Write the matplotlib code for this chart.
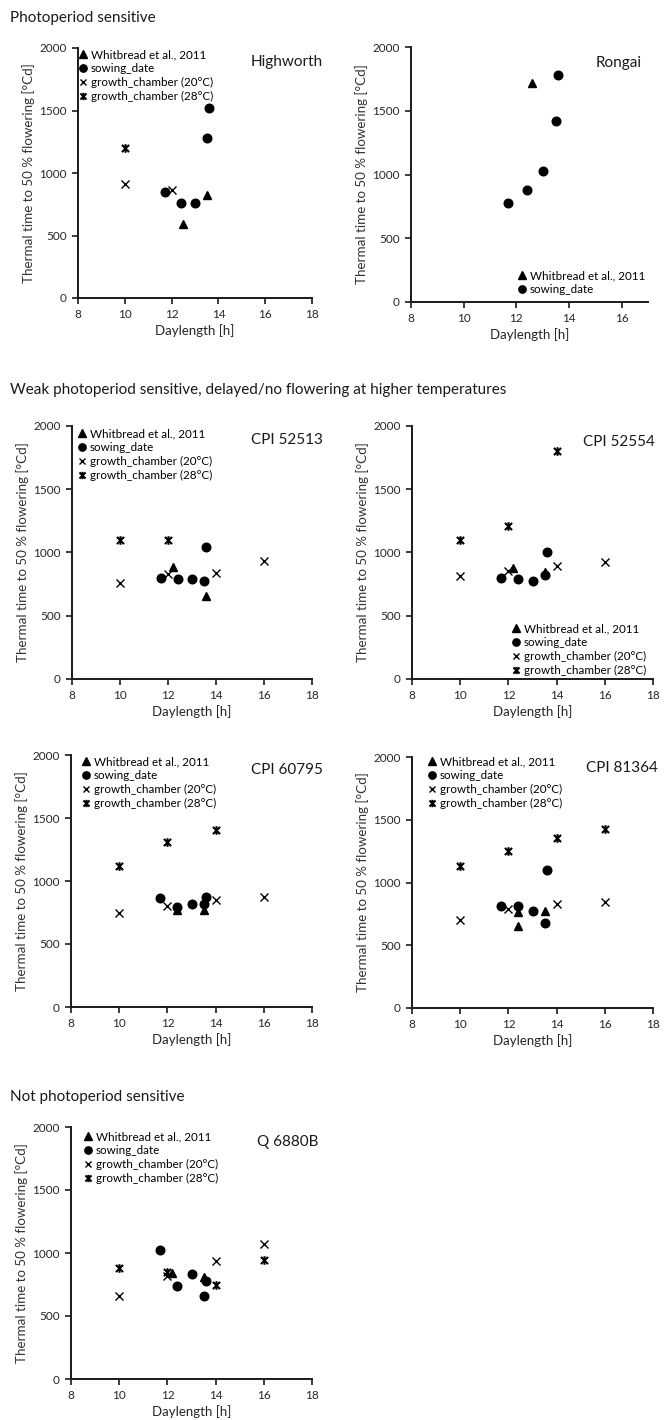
import matplotlib
matplotlib.use("Agg")
import matplotlib.pyplot as plt
from matplotlib.path import Path

plt.rcParams['font.family'] = ['Lato', 'DejaVu Sans']

# ---------------- data ----------------
labels = ["Whitbread et al., 2011", "sowing_date",
          "growth_chamber (20\u00b0C)", "growth_chamber (28\u00b0C)"]
panel_names = ["Highworth", "Rongai", "CPI 52513", "CPI 52554",
               "CPI 60795", "CPI 81364", "Q 6880B"]
group_titles = ["Photoperiod sensitive",
                "Weak photoperiod sensitive, delayed/no flowering at higher temperatures",
                "Not photoperiod sensitive"]
x_label = "Daylength [h]"
y_label = "Thermal time to 50 % flowering [\u00b0Cd]"
y_ticks = [0, 500, 1000, 1500, 2000]

# Highworth
hw_tri_x = [12.5, 13.5];            hw_tri_y = [590, 825]
hw_dot_x = [11.7, 12.4, 13.0, 13.5, 13.6]; hw_dot_y = [845, 757, 762, 1278, 1519]
hw_c20_x = [10, 12];                hw_c20_y = [915, 868]
hw_c28_x = [10];                    hw_c28_y = [1200]

# Rongai
ro_tri_x = [12.6];                  ro_tri_y = [1720]
ro_dot_x = [11.7, 12.4, 13.0, 13.5, 13.6]; ro_dot_y = [779, 876, 1025, 1420, 1778]

# CPI 52513
a_tri_x = [12.2, 13.6];             a_tri_y = [886, 656]
a_dot_x = [11.7, 12.4, 13.0, 13.5, 13.6]; a_dot_y = [802, 790, 794, 775, 1040]
a_c20_x = [10, 12, 14, 16];         a_c20_y = [762, 830, 841, 934]
a_c28_x = [10, 12];                 a_c28_y = [1100, 1100]

# CPI 52554
b_tri_x = [12.2, 13.5];             b_tri_y = [881, 847]
b_dot_x = [11.7, 12.4, 13.0, 13.5, 13.6]; b_dot_y = [802, 788, 775, 820, 1000]
b_c20_x = [10, 12, 14, 16];         b_c20_y = [815, 855, 894, 926]
b_c28_x = [10, 12, 14];             b_c28_y = [1100, 1206, 1799]

# CPI 60795
c_tri_x = [12.4, 13.5];             c_tri_y = [770, 770]
c_dot_x = [11.7, 12.4, 13.0, 13.5, 13.6]; c_dot_y = [862, 796, 815, 815, 870]
c_c20_x = [10, 12, 14, 16];         c_c20_y = [749, 804, 849, 876]
c_c28_x = [10, 12, 14];             c_c28_y = [1119, 1307, 1405]

# CPI 81364
d_tri_x = [12.4, 12.4, 13.5];       d_tri_y = [655, 765, 769]
d_dot_x = [11.7, 12.4, 13.0, 13.5, 13.6]; d_dot_y = [809, 809, 769, 676, 1101]
d_c20_x = [10, 12, 14, 16];         d_c20_y = [703, 788, 828, 843]
d_c28_x = [10, 12, 14, 16];         d_c28_y = [1135, 1252, 1358, 1427]

# Q 6880B
e_tri_x = [12.2, 13.5];             e_tri_y = [841, 810]
e_dot_x = [11.7, 12.4, 13.0, 13.5, 13.6]; e_dot_y = [1021, 741, 834, 662, 775]
e_c20_x = [10, 12, 14, 16];         e_c20_y = [662, 815, 939, 1074]
e_c28_x = [10, 12, 14, 16];         e_c28_y = [881, 847, 749, 947]

# ---------------- layout ----------------
W, H = 665, 1420
fig = plt.figure(figsize=(W / 100, H / 100), dpi=100)

def add_axes(x0, x1, y0, y1):
    return fig.add_axes([x0 / W, 1 - y1 / H, (x1 - x0) / W, (y1 - y0) / H])

star = Path([(-1, -1), (1, 1), (-1, 1), (1, -1), (0, -1.2), (0, 1.2)],
            [Path.MOVETO, Path.LINETO, Path.MOVETO, Path.LINETO, Path.MOVETO, Path.LINETO])

INK = '#1a1a1a'
TXT = '#262626'
LEG_FS = 8.4

def style(ax, xmax=18, xticks=range(8, 19, 2)):
    ax.set_xlim(8, xmax)
    ax.set_ylim(0, 2000)
    ax.set_xticks(list(xticks))
    ax.set_yticks(y_ticks)
    for s in ['top', 'right']:
        ax.spines[s].set_visible(False)
    for s in ['left', 'bottom']:
        ax.spines[s].set_linewidth(1.4)
        ax.spines[s].set_color(INK)
    ax.tick_params(direction='out', length=4, width=1.2, colors=INK,
                   labelsize=8.5, labelcolor=TXT, pad=4)
    ax.set_xlabel(x_label, fontsize=9.5, color=TXT, labelpad=3)
    ax.set_ylabel(y_label, fontsize=9.6, color='#333333', labelpad=3)
    ax.patch.set_alpha(0)

def draw(ax, tri, dot, c20=None, c28=None):
    ax.plot(tri[0], tri[1], linestyle='none', marker='^', ms=6, color='black', label=labels[0])
    ax.plot(dot[0], dot[1], linestyle='none', marker='o', ms=6.2, color='black', label=labels[1])
    if c20 is not None:
        ax.plot(c20[0], c20[1], linestyle='none', marker='x', ms=5.4, mew=1.0, color='black', label=labels[2])
    if c28 is not None:
        ax.plot(c28[0], c28[1], linestyle='none', marker=star, ms=6.2, mew=1.5, color='black', label=labels[3])

def legend(ax, px, py, loc, spacing=0.25):
    ax.legend(frameon=False, fontsize=LEG_FS, handlelength=0.75, handletextpad=0.25,
              labelspacing=spacing, borderpad=0.0, borderaxespad=0.0, markerscale=0.85,
              loc=loc, bbox_to_anchor=(px / W, 1 - py / H),
              bbox_transform=fig.transFigure)

def name(text, xr, yc):
    fig.text(xr / W, 1 - yc / H, text, ha='right', va='center',
             fontsize=11, color=INK)

# group titles
fig.text(10 / W, 1 - 18 / H, group_titles[0], fontsize=11, color=INK, va='center')
fig.text(10 / W, 1 - 390 / H, group_titles[1], fontsize=11, color=INK, va='center')
fig.text(10 / W, 1 - 1097 / H, group_titles[2], fontsize=11, color=INK, va='center')

# Highworth
ax1 = add_axes(78, 312, 48, 298)
style(ax1)
draw(ax1, (hw_tri_x, hw_tri_y), (hw_dot_x, hw_dot_y), (hw_c20_x, hw_c20_y), (hw_c28_x, hw_c28_y))
legend(ax1, 79, 49, 'upper left')
name(panel_names[0], 323, 62)

# Rongai
ax2 = add_axes(411, 648, 47, 302)
style(ax2, xmax=17, xticks=range(8, 17, 2))
draw(ax2, (ro_tri_x, ro_tri_y), (ro_dot_x, ro_dot_y))
legend(ax2, 645, 295, 'lower right')
name(panel_names[1], 642, 63)

# CPI 52513
ax3 = add_axes(72, 312, 426, 679)
style(ax3)
draw(ax3, (a_tri_x, a_tri_y), (a_dot_x, a_dot_y), (a_c20_x, a_c20_y), (a_c28_x, a_c28_y))
legend(ax3, 78, 428, 'upper left')
name(panel_names[2], 323, 440)

# CPI 52554
ax4 = add_axes(412, 653, 426, 679)
style(ax4)
draw(ax4, (b_tri_x, b_tri_y), (b_dot_x, b_dot_y), (b_c20_x, b_c20_y), (b_c28_x, b_c28_y))
legend(ax4, 646, 676, 'lower right')
name(panel_names[3], 655, 442)

# CPI 60795
ax5 = add_axes(71, 312, 755, 1007)
style(ax5)
draw(ax5, (c_tri_x, c_tri_y), (c_dot_x, c_dot_y), (c_c20_x, c_c20_y), (c_c28_x, c_c28_y))
legend(ax5, 82, 756, 'upper left')
name(panel_names[4], 323, 770)

# CPI 81364
ax6 = add_axes(412, 653, 757, 1008)
style(ax6)
draw(ax6, (d_tri_x, d_tri_y), (d_dot_x, d_dot_y), (d_c20_x, d_c20_y), (d_c28_x, d_c28_y))
legend(ax6, 428, 756, 'upper left')
name(panel_names[5], 658, 768)

# Q 6880B
ax7 = add_axes(71, 312, 1127, 1379)
style(ax7)
draw(ax7, (e_tri_x, e_tri_y), (e_dot_x, e_dot_y), (e_c20_x, e_c20_y), (e_c28_x, e_c28_y))
legend(ax7, 84, 1131, 'upper left')
name(panel_names[6], 318, 1142)

fig.savefig("out.png", dpi=100, facecolor='white')
